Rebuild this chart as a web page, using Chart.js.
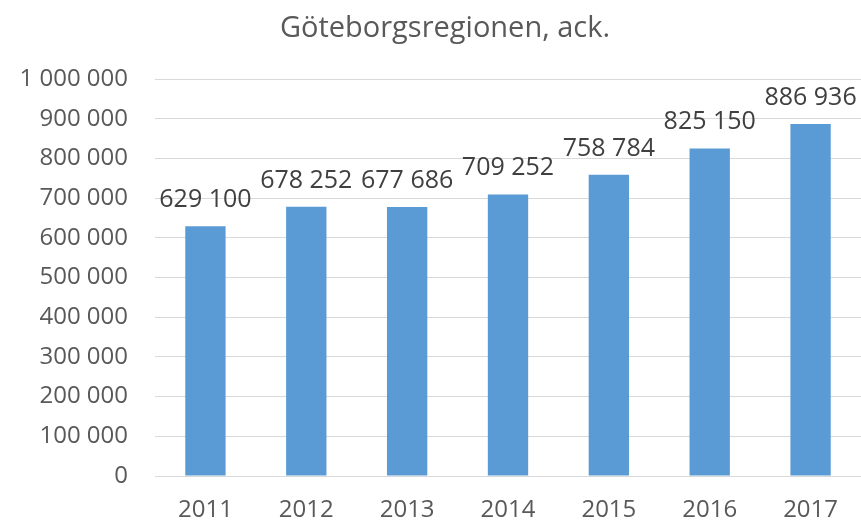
<!DOCTYPE html>
<html>
<head>
<meta charset="utf-8">
<script src="https://cdn.jsdelivr.net/npm/chart.js@4"></script>
<style>
  html, body { margin: 0; padding: 0; background: #fff; }
  #wrap { width: 861px; height: 521px; }
</style>
</head>
<body>
<div id="wrap"><canvas id="chart"></canvas></div>
<script>
// Göteborgsregionen, ackumulerat
const title = 'Göteborgsregionen, ack.';
const years = ['2011', '2012', '2013', '2014', '2015', '2016', '2017'];
const values = [629100, 678252, 677686, 709252, 758784, 825150, 886936];
const yTicks = [0, 100000, 200000, 300000, 400000, 500000, 600000, 700000, 800000, 900000, 1000000];

const FONT = "'Open Sans', sans-serif";

// swedish style thousand separator: 1 000 000
function fmt(v) {
    return String(v).replace(/\B(?=(\d{3})+(?!\d))/g, ' ');
}

// value labels above the bars + the title (sits a bit right of canvas center)
const barLabels = {
    id: 'barLabels',
    afterDatasetsDraw(chart) {
        const ctx = chart.ctx;
        const meta = chart.getDatasetMeta(0);
        ctx.save();
        ctx.font = '25px ' + FONT;
        ctx.fillStyle = '#404040';
        ctx.textAlign = 'center';
        ctx.textBaseline = 'alphabetic';
        meta.data.forEach(function (bar, i) {
            ctx.fillText(fmt(values[i]), bar.x, bar.y - 19);
        });

        ctx.font = '29px ' + FONT;
        ctx.fillStyle = '#595959';
        ctx.textBaseline = 'middle';
        ctx.fillText(title, 445, 29);
        ctx.restore();
    }
};

new Chart(document.getElementById('chart').getContext('2d'), {
    type: 'bar',
    data: {
        labels: years,
        datasets: [{
            data: values,
            backgroundColor: '#5B9BD5',
            borderWidth: 0,
            categoryPercentage: 1,
            barPercentage: 0.4
        }]
    },
    options: {
        responsive: true,
        maintainAspectRatio: false,
        animation: false,
        layout: { padding: { left: 0, right: 0, top: 79, bottom: 0 } },
        plugins: {
            legend: { display: false },
            tooltip: { enabled: false },
            title: { display: false }
        },
        scales: {
            x: {
                grid: { display: false, drawTicks: false },
                border: { display: false },
                ticks: {
                    color: '#595959',
                    font: { family: FONT, size: 24 },
                    padding: 20
                },
                afterFit(scale) { scale.height = 45; }
            },
            y: {
                min: 0,
                max: 1000000,
                afterBuildTicks(scale) {
                    scale.ticks = yTicks.map(function (v) { return { value: v }; });
                },
                grid: { color: '#d9d9d9', lineWidth: 1, drawTicks: false },
                border: { display: false },
                ticks: {
                    color: '#595959',
                    font: { family: FONT, size: 24 },
                    padding: 27,
                    callback: function (value) { return fmt(value); }
                },
                afterFit(scale) { scale.width = 155; }
            }
        }
    },
    plugins: [barLabels]
});
</script>
</body>
</html>
